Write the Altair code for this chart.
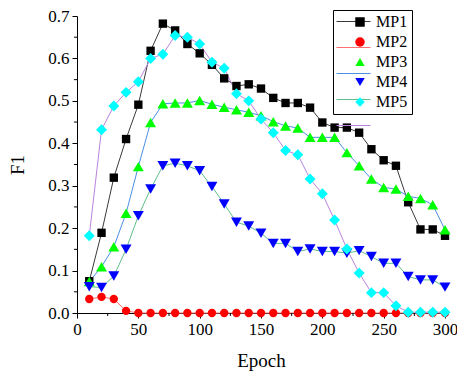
import altair as alt
import pandas as pd

epochs = list(range(10, 301, 10))
series = ["MP1", "MP2", "MP3", "MP4", "MP5"]
mp1 = [0.075, 0.189, 0.319, 0.41, 0.491, 0.618, 0.682, 0.666, 0.634, 0.612,
       0.585, 0.553, 0.535, 0.539, 0.529, 0.507, 0.495, 0.495, 0.484, 0.449,
       0.437, 0.437, 0.425, 0.386, 0.36, 0.347, 0.261, 0.197, 0.197, 0.182]
mp2 = [0.033, 0.038, 0.033, 0.005, 0.0, 0.0, 0.0, 0.0, 0.0, 0.0,
       0.0, 0.0, 0.0, 0.0, 0.0, 0.0, 0.0, 0.0, 0.0, 0.0,
       0.0, 0.0, 0.0, 0.0, 0.0, 0.0, 0.0, 0.0, 0.0, 0.0]
mp3 = [0.074, 0.109, 0.156, 0.235, 0.345, 0.449, 0.493, 0.495, 0.495, 0.501,
       0.492, 0.485, 0.479, 0.473, 0.465, 0.451, 0.441, 0.436, 0.414, 0.414,
       0.414, 0.378, 0.347, 0.316, 0.296, 0.292, 0.275, 0.27, 0.255, 0.196]
mp4 = [0.062, 0.06, 0.087, 0.15, 0.229, 0.292, 0.347, 0.353, 0.347, 0.335,
       0.298, 0.257, 0.214, 0.205, 0.188, 0.164, 0.164, 0.145, 0.151, 0.145,
       0.145, 0.141, 0.147, 0.133, 0.117, 0.117, 0.086, 0.078, 0.078, 0.061]
mp5 = [0.182, 0.432, 0.488, 0.52, 0.545, 0.6, 0.61, 0.654, 0.65, 0.634,
       0.591, 0.577, 0.517, 0.5, 0.457, 0.425, 0.383, 0.373, 0.316, 0.281,
       0.219, 0.151, 0.094, 0.048, 0.048, 0.017, 0.002, 0.002, 0.002, 0.002]

line_colors = ["#3a3a3a", "#ff6f6f", "#4a90e2", "#5cbf8a", "#b983e0"]
marker_colors = ["#000000", "#ff0000", "#00ff00", "#0000ff", "#00ffff"]
shapes = ["square", "circle", "triangle-up", "triangle-down", "diamond"]
small_series = ["MP1", "MP2"]
big_series = ["MP3", "MP4", "MP5"]

x_major = list(range(0, 301, 50))
x_minor = list(range(25, 300, 50))
y_major = [round(i * 0.1, 1) for i in range(8)]
y_minor = [round(0.05 + i * 0.1, 2) for i in range(7)]

rows = []
for name, vals in zip(series, [mp1, mp2, mp3, mp4, mp5]):
    for e, v in zip(epochs, vals):
        rows.append({"series": name, "series_line": name + "_", "epoch": e, "f1": v})
df = pd.DataFrame(rows)

FONT = "Liberation Serif"
xs = alt.Scale(domain=[0, 300], nice=False, zero=False)
ys = alt.Scale(domain=[0, 0.7], nice=False)

x_main = alt.X("epoch:Q", scale=xs, axis=alt.Axis(
    orient="bottom", values=x_major, title="Epoch", format="d", grid=False,
    tickSize=5, labelPadding=3, titlePadding=14, domainColor="black", labelFlush=False,
    tickColor="black", labelFont=FONT, labelFontSize=17, titleFont=FONT,
    titleFontSize=19, titleFontWeight="normal", labelColor="black", titleColor="black"))
y_main = alt.Y("f1:Q", scale=ys, axis=alt.Axis(
    orient="left", values=y_major, title="F1", format=".1f", grid=False,
    tickSize=5, labelPadding=3, titlePadding=20, domainColor="black", labelFlush=False,
    tickColor="black", labelFont=FONT, labelFontSize=17, titleFont=FONT,
    titleFontSize=19, titleFontWeight="normal", labelColor="black", titleColor="black"))

line_domain = [s + "_" for s in series]
lines = alt.Chart(df).mark_line(strokeWidth=1).encode(
    x=x_main, y=y_main,
    color=alt.Color("series_line:N", scale=alt.Scale(domain=line_domain, range=line_colors),
                    legend=alt.Legend(orient="none", legendX=256, legendY=-15, title=None,
                                      symbolType="stroke", symbolSize=1156, symbolStrokeWidth=1,
                                      labelExpr="''", labelFontSize=16,
                                      labelOffset=6, padding=3, rowPadding=-6)),
)

fill_enc = alt.Fill("series:N", scale=alt.Scale(domain=series, range=marker_colors),
                    legend=alt.Legend(orient="none", legendX=256, legendY=-6, title=None,
                                      symbolSize=90, labelFont=FONT, labelFontSize=16,
                                      labelColor="black", labelOffset=8, padding=4,
                                      symbolOffset=15, strokeColor="black",
                                      rowPadding=4, symbolStrokeWidth=0, symbolOpacity=1))
shape_enc = alt.Shape("series:N", scale=alt.Scale(domain=series, range=shapes))

points_small = alt.Chart(df).transform_filter(
    alt.FieldOneOfPredicate(field="series", oneOf=small_series)
).mark_point(filled=True, opacity=1, strokeWidth=0, size=70).encode(
    x=alt.X("epoch:Q", scale=xs), y=alt.Y("f1:Q", scale=ys),
    fill=fill_enc, shape=shape_enc,
)
points_big = alt.Chart(df).transform_filter(
    alt.FieldOneOfPredicate(field="series", oneOf=big_series)
).mark_point(filled=True, opacity=1, strokeWidth=0, size=120).encode(
    x=alt.X("epoch:Q", scale=xs), y=alt.Y("f1:Q", scale=ys),
    fill=fill_enc, shape=shape_enc, order=alt.Order("series:N"),
)

xminor_df = pd.DataFrame({"epoch": x_minor})
yminor_df = pd.DataFrame({"f1": y_minor})
xminor = alt.Chart(xminor_df).mark_rule(color="black", strokeWidth=1).encode(
    x=alt.X("epoch:Q", scale=xs), y=alt.value(297), y2=alt.value(300))
yminor = alt.Chart(yminor_df).mark_rule(color="black", strokeWidth=1).encode(
    y=alt.Y("f1:Q", scale=ys), x=alt.value(0), x2=alt.value(-3))

chart = alt.layer(lines, points_small, points_big, xminor, yminor).properties(
    width=368, height=297,
    autosize=alt.AutoSizeParams(type="none"),
    padding={"left": 77, "top": 16, "right": 12, "bottom": 61},
    background="white",
).configure_view(stroke=None)

chart.save("out.html", embed_options={"renderer": "svg", "actions": False})
